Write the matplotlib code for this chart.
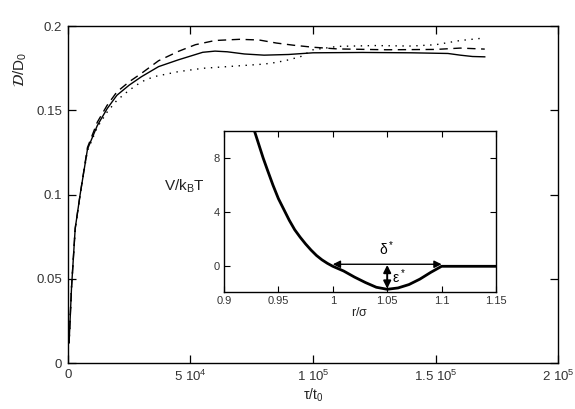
import matplotlib
matplotlib.use("Agg")
import matplotlib.pyplot as plt
import numpy as np

# diffusion coefficient vs time, three runs, with a well-potential inset

plt.rcParams['font.family'] = ['Liberation Sans', 'DejaVu Sans']
plt.rcParams['mathtext.default'] = 'regular'

# main curves (time in units of t0, D/D0)
t_solid = [500, 1500, 3000, 5000, 8000, 12000, 16000, 20000, 25000, 30000, 37000,
           45000, 55000, 60000, 65000, 72000, 80000, 90000, 100000, 120000, 140000,
           155000, 160000, 165000, 170000]
d_solid = [0.012, 0.045, 0.08, 0.1, 0.127, 0.141, 0.151, 0.159, 0.165, 0.170, 0.176,
           0.180, 0.1845, 0.1852, 0.1848, 0.1835, 0.1828, 0.1832, 0.1842, 0.1844, 0.1842,
           0.1838, 0.1828, 0.182, 0.1818]

t_dash = [500, 1500, 3000, 5000, 8000, 12000, 16000, 20000, 25000, 30000, 37000,
          45000, 52000, 60000, 70000, 78000, 85000, 92000, 100000, 110000, 130000,
          150000, 160000, 170000]
d_dash = [0.012, 0.045, 0.08, 0.1, 0.128, 0.143, 0.153, 0.161, 0.167, 0.172, 0.1795,
          0.185, 0.189, 0.1915, 0.1922, 0.1918, 0.190, 0.1887, 0.1875, 0.1865, 0.186,
          0.1862, 0.187, 0.1864]

t_dot = [500, 1500, 3000, 5000, 8000, 12000, 16000, 20000, 25000, 30000, 35000,
         45000, 55000, 70000, 80000, 85000, 90000, 95000, 100000, 110000, 125000,
         140000, 150000, 160000, 170000]
d_dot = [0.012, 0.045, 0.08, 0.1, 0.126, 0.140, 0.149, 0.156, 0.162, 0.167, 0.170,
         0.173, 0.175, 0.1765, 0.1775, 0.1785, 0.180, 0.182, 0.186, 0.188, 0.1885,
         0.1882, 0.189, 0.1915, 0.193]

xticks = [0, 50000, 100000, 150000, 200000]
xticklabels = ['0', '5 10$^4$', '1 10$^5$', '1.5 10$^5$', '2 10$^5$']
yticks = [0, 0.05, 0.1, 0.15, 0.2]
yticklabels = ['0', '0.05', '0.1', '0.15', '0.2']

# inset: potential V/kT vs r/sigma
r_pot = [0.928, 0.932, 0.936, 0.94, 0.945, 0.95, 0.955, 0.96, 0.965, 0.97, 0.975,
         0.98, 0.985, 0.99, 0.995, 1.0, 1.01, 1.02, 1.03, 1.04, 1.05, 1.06, 1.07,
         1.08, 1.09, 1.1, 1.15]
v_pot = [10.0, 9.0, 8.0, 7.1, 6.0, 5.0, 4.2, 3.4, 2.7, 2.15, 1.65,
         1.2, 0.8, 0.48, 0.22, 0.0, -0.35, -0.8, -1.2, -1.55, -1.7, -1.6, -1.35,
         -0.95, -0.45, 0.0, 0.0]
in_xticks = [0.9, 0.95, 1.0, 1.05, 1.1, 1.15]
in_xticklabels = ['0.9', '0.95', '1', '1.05', '1.1', '1.15']
in_yticks = [0, 4, 8]

fig = plt.figure(figsize=(5.75, 4.09), dpi=100)
ax = fig.add_axes([0.118, 0.112, 0.853, 0.824])

ax.plot(t_solid, d_solid, color='black', lw=1.0, ls='-')
ax.plot(t_dash, d_dash, color='black', lw=1.0, ls=(0, (6, 4)))
ax.plot(t_dot, d_dot, color='black', lw=1.0, ls=(0, (1, 4)))

ax.set_xlim(0, 200000)
ax.set_ylim(0, 0.2)
ax.set_xticks(xticks)
ax.set_xticklabels(xticklabels)
ax.set_yticks(yticks)
ax.set_yticklabels(yticklabels)
ax.tick_params(direction='in', length=6, width=0.9, top=True, right=True,
               labelsize=9.5, labelcolor='#333333', pad=4)
for s in ax.spines.values():
    s.set_linewidth(1.0)
ax.set_xlabel(r'$\tau$/t$_0$', fontsize=10, color='#222222', labelpad=2)
fig.text(0.035, 0.83, r'$\mathcal{D}$/D$_0$', rotation=90, fontsize=11,
         color='#222222', ha='center', va='center')

# inset
ins = fig.add_axes([224 / 575, 1 - 292 / 409, 272 / 575, 161 / 409])
ins.plot(r_pot, v_pot, color='black', lw=2.0)
ins.set_xlim(0.9, 1.15)
ins.set_ylim(-1.9, 10)
ins.set_xticks(in_xticks)
ins.set_xticklabels(in_xticklabels)
ins.set_yticks(in_yticks)
ins.tick_params(direction='in', length=4, width=0.8, top=True, right=True,
                labelsize=8, labelcolor='#333333', pad=3)
for s in ins.spines.values():
    s.set_linewidth(1.0)
ins.set_xlabel(r'r/$\sigma$', fontsize=9, color='#222222', labelpad=0)
fig.text(184 / 575, 1 - 186 / 409, 'V/k$_B$T', fontsize=11, color='#222222',
         ha='center', va='center')

ins.annotate('', xy=(1.0, 0.15), xytext=(1.1, 0.15),
             arrowprops=dict(arrowstyle='<|-|>', color='black', lw=1.0,
                             mutation_scale=11, shrinkA=0, shrinkB=0))
ins.annotate('', xy=(1.05, 0.1), xytext=(1.05, -1.65),
             arrowprops=dict(arrowstyle='<|-|>', color='black', lw=1.4,
                             mutation_scale=11, shrinkA=0, shrinkB=0))
ins.text(1.05, 0.6, r'$\delta^*$', fontsize=10, ha='center', va='bottom')
ins.text(1.054, -0.8, r'$\varepsilon^*$', fontsize=10, ha='left', va='center')

fig.savefig('out.png', dpi=100)
